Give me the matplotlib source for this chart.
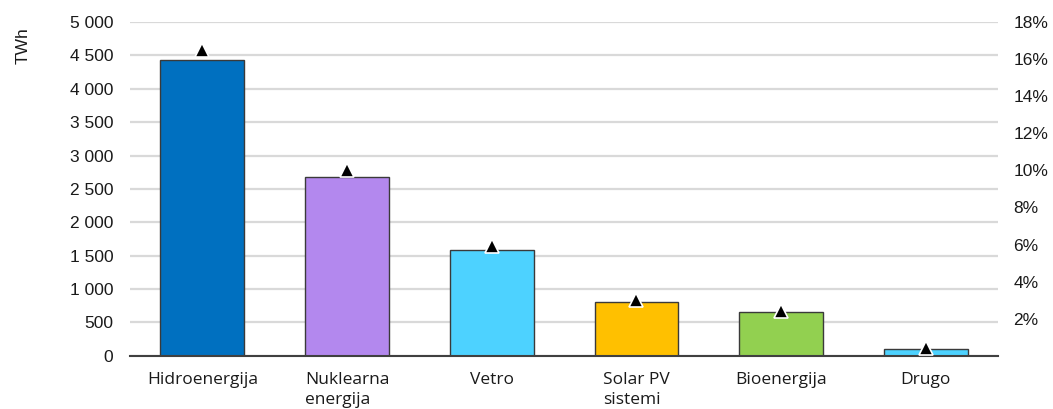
import matplotlib.pyplot as plt
from matplotlib.ticker import FuncFormatter

# electricity generation by source (TWh) and share growth (%)
categories = ['Hidroenergija', 'Nuklearna\nenergija', 'Vetro', 'Solar PV\nsistemi', 'Bioenergija', 'Drugo']
generation = [4430, 2680, 1590, 810, 660, 105]
share = [16.5, 10.0, 5.9, 3.0, 2.4, 0.4]
colors = ['#0070C0', '#B388EE', '#4DD2FF', '#FFC000', '#92D050', '#4DD2FF']

plt.rcParams['font.family'] = ['Liberation Sans', 'DejaVu Sans']

fig, ax = plt.subplots(figsize=(10.53, 4.09), dpi=100)
fig.subplots_adjust(left=0.1235, right=0.948, top=0.946, bottom=0.13)

x = range(len(categories))
ax.bar(x, generation, width=0.58, color=colors, edgecolor='#3a3a3a', linewidth=1.0, zorder=3)
ax.set_xlim(-0.5, len(categories) - 0.5)
ax.set_ylim(0, 5000)
ax.set_yticks(range(0, 5001, 500))
ax.yaxis.set_major_formatter(FuncFormatter(lambda v, p: f'{int(v):,}'.replace(',', ' ')))
ax.grid(axis='y', color='#d9d9d9', linewidth=1.6, zorder=0)
ax.set_axisbelow(True)
for s in ['top', 'right', 'left']:
    ax.spines[s].set_visible(False)
ax.spines['bottom'].set_color('#404040')
ax.spines['bottom'].set_linewidth(1.5)
ax.spines['bottom'].set_zorder(4)
ax.tick_params(axis='y', length=0, pad=12, labelsize=12.5, labelcolor='#1a1a1a')
ax.tick_params(axis='x', length=0, pad=12)
ax.set_xticks(list(x))
ax.set_xticklabels(categories, fontsize=12.5, family='Open Sans', multialignment='left',
                   linespacing=1.3, color='#1a1a1a')
ax.set_ylabel('TWh', fontsize=12.5, color='#1a1a1a')
ax.yaxis.set_label_coords(-0.115, 0.93)

ax2 = ax.twinx()
ax2.set_ylim(0, 18)
ax2.set_yticks(range(2, 19, 2))
ax2.yaxis.set_major_formatter(FuncFormatter(lambda v, p: f'{int(v)}%'))
ax2.tick_params(axis='y', length=0, pad=11, labelsize=12.5, labelcolor='#1a1a1a')
for s in ax2.spines.values():
    s.set_visible(False)
ax2.plot(list(x), share, linestyle='none', marker='^', markersize=10.5,
         color='black', markeredgecolor='white', markeredgewidth=1.2, zorder=5)

fig.savefig('out.png', dpi=100)
